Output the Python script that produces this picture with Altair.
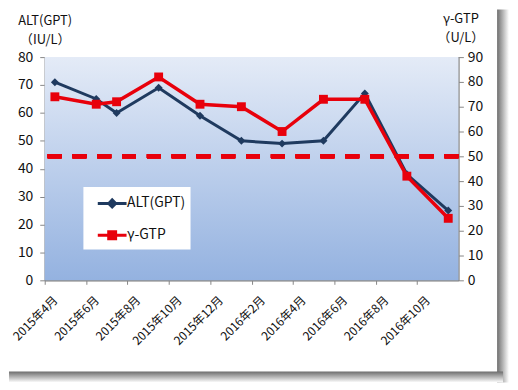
import altair as alt
import pandas as pd

# ---- data ----
dates = ["2015-04-16", "2015-06-16", "2015-07-16", "2015-09-16", "2015-11-16",
         "2016-01-16", "2016-03-16", "2016-05-16", "2016-07-16", "2016-09-16",
         "2016-11-16"]
alt_vals = [71, 65, 60, 69, 59, 50, 49, 50, 67, 38, 25]
gtp_vals = [74, 71, 72, 82, 71, 70, 60, 73, 73, 42, 25]
threshold = 50
x_tick_dates = ["2015-04-01", "2015-06-01", "2015-08-01", "2015-10-01", "2015-12-01",
                "2016-02-01", "2016-04-01", "2016-06-01", "2016-08-01", "2016-10-01"]
x_domain = ["2015-04-01", "2016-12-01"]
series_names = ["ALT(GPT)", "γ-GTP"]
left_ticks = [0, 10, 20, 30, 40, 50, 60, 70, 80]
right_ticks = [0, 10, 20, 30, 40, 50, 60, 70, 80, 90]

df = pd.DataFrame({"date": dates, "ALT": alt_vals, "GTP": gtp_vals})
legend_df = pd.DataFrame({"series": series_names})


def ms(d):
    return int(pd.Timestamp(d, tz="UTC").value // 10**6)


FONT = "Noto Sans CJK JP"
NAVY = "#1f3a5f"
RED = "#e8000b"
AXC = "#868686"
W, H = 417, 225

x_enc = alt.X(
    "date:T",
    scale=alt.Scale(type="utc", domain=[ms(d) for d in x_domain]),
    axis=alt.Axis(
        values=[ms(d) for d in x_tick_dates],
        labelExpr="utcFormat(datum.value, '%Y年%-m月')",
        labelAngle=-45, labelAlign="right", labelBaseline="top",
        labelOffset=7, labelPadding=10, tickSize=4,
        labelOverlap=False, labelFlush=False, grid=False, title=None,
        labelFont=FONT, labelFontSize=12, labelColor="#111",
        domainColor=AXC, tickColor=AXC,
    ),
)

left_axis = alt.Axis(
    orient="left", values=left_ticks, grid=False, tickSize=5, labelPadding=7,
    labelFont=FONT, labelFontSize=14, labelColor="#111",
    domainColor=AXC, tickColor=AXC,
    title=["ALT(GPT)", "（IU/L）"], titleAngle=0, titleAlign="center",
    titleBaseline="middle", titleX=0, titleY=-37, titleLineHeight=19,
    titleFont=FONT, titleFontSize=13, titleFontWeight="normal", titleColor="#111",
)
right_axis = alt.Axis(
    orient="right", values=right_ticks, grid=False, tickSize=5, labelPadding=4,
    labelFont=FONT, labelFontSize=14, labelColor="#111",
    domainColor=AXC, tickColor=AXC,
    title=["γ-GTP", "（U/L）"], titleAngle=0, titleAlign="center",
    titleBaseline="middle", titleX=2, titleY=-39, titleLineHeight=19,
    titleFont=FONT, titleFontSize=13, titleFontWeight="normal", titleColor="#111",
)

one = pd.DataFrame({"k": [0]})

# plot-area background gradient (decoration)
bg = alt.Chart(one).mark_rect(
    color=alt.LinearGradient(
        gradient="linear", x1=0, x2=0, y1=0, y2=1,
        stops=[alt.GradientStop(offset=0, color="#e4ebf7"),
               alt.GradientStop(offset=1, color="#94b2e0")],
    )
).encode(x=alt.value(0), x2=alt.value(W), y=alt.value(0), y2=alt.value(H))

# frame drop shadow (decoration)
shadow_r = alt.Chart(one).mark_rect(
    color=alt.LinearGradient(
        gradient="linear", x1=0, x2=1, y1=0, y2=0,
        stops=[alt.GradientStop(offset=0, color="#6e6e6e"),
               alt.GradientStop(offset=1, color="#ffffff")],
    )
).encode(x=alt.value(W + 39), x2=alt.value(W + 51), y=alt.value(-48), y2=alt.value(H + 103))
shadow_b = alt.Chart(one).mark_rect(
    color=alt.LinearGradient(
        gradient="linear", x1=0, x2=0, y1=0, y2=1,
        stops=[alt.GradientStop(offset=0, color="#6e6e6e"),
               alt.GradientStop(offset=1, color="#ffffff")],
    )
).encode(x=alt.value(-36), x2=alt.value(W + 45), y=alt.value(H + 92), y2=alt.value(H + 103))

alt_layer = alt.Chart(df).mark_line(
    color=NAVY, strokeWidth=3,
    point=alt.OverlayMarkDef(shape="diamond", size=64, filled=True, color=NAVY, opacity=1),
).encode(
    x=x_enc,
    y=alt.Y("ALT:Q", scale=alt.Scale(domain=[0, 80]), axis=left_axis),
)

gtp_scale = alt.Scale(domain=[0, 90])
gtp_line = alt.Chart(df).mark_line(
    color=RED, strokeWidth=3.5,
    point=alt.OverlayMarkDef(shape="square", size=80, filled=True, color=RED, opacity=1),
).encode(
    x=x_enc,
    y=alt.Y("GTP:Q", scale=gtp_scale, axis=right_axis),
)
thr_rule = alt.Chart(df).mark_rule(color=RED, strokeWidth=4, strokeDash=[14, 11]).encode(
    y=alt.YDatum(threshold, scale=gtp_scale, axis=right_axis),
)
gtp_layer = alt.layer(thr_rule, gtp_line)

# legend glyphs: line + marker (marker area made solid through nested strokes)
path_alt = "M-0.2,0L2.7,0M0.9,0L1.25,-0.35L1.6,0L1.25,0.35Z"
path_gtp = ("M-0.2,0L2.7,0M0.9,-0.35L1.6,-0.35L1.6,0.35L0.9,0.35Z"
            "M1.15,-0.1L1.35,-0.1L1.35,0.1L1.15,0.1Z")

leg = alt.Legend(
    orient="none", legendX=39, legendY=131, title=None,
    fillColor="white", padding=5, symbolSize=400, symbolStrokeWidth=3,
    labelFont=FONT, labelFontSize=14, labelColor="#111", labelOffset=16,
    rowPadding=11,
)
color_scale = alt.Scale(domain=series_names, range=[NAVY, RED])
legend_layer = alt.Chart(legend_df).mark_point(filled=True, opacity=0).encode(
    fill=alt.Fill("series:N", scale=color_scale, legend=leg),
    stroke=alt.Stroke("series:N", scale=color_scale, legend=leg),
    shape=alt.Shape("series:N", scale=alt.Scale(domain=series_names, range=[path_alt, path_gtp]), legend=leg),
)

chart = alt.layer(shadow_r, shadow_b, bg, alt_layer, gtp_layer, legend_layer).resolve_scale(
    y="independent"
).properties(
    width=W, height=H,
    autosize=alt.AutoSizeParams(type="none"),
    padding={"left": 37, "top": 48, "right": 52, "bottom": 104},
    background="white",
).configure_view(
    stroke="#7a7a7a", strokeWidth=1,
)

chart.save("out.html", embed_options={"renderer": "svg", "actions": False})
